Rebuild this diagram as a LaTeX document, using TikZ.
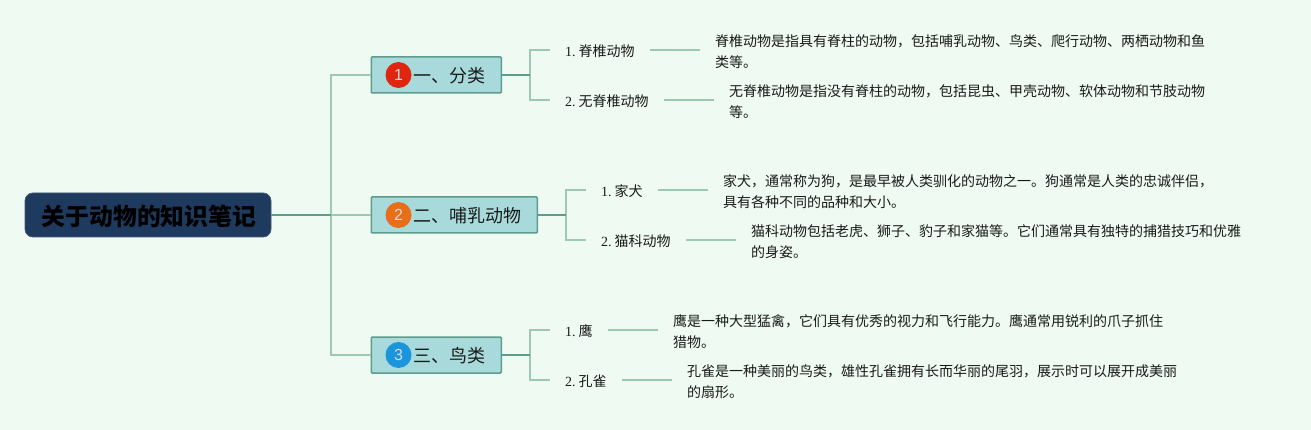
\documentclass[tikz,border=0pt]{standalone}
\usepackage{fontspec}
\setmainfont{Noto Sans CJK SC}
\newfontfamily\numfont{Liberation Serif}
\newfontfamily\sansnum{Liberation Sans}
\definecolor{bgc}{HTML}{EEFAF2}
\definecolor{rootc}{HTML}{1F3A5F}
\definecolor{mainc}{HTML}{A8DADC}
\definecolor{edgec}{HTML}{5E9C8C}
\definecolor{linec}{HTML}{9CC8B4}
\definecolor{inkc}{HTML}{1A1A1A}
\definecolor{bred}{HTML}{E0260F}
\definecolor{borange}{HTML}{E66F17}
\definecolor{bblue}{HTML}{1B95DC}
\tikzset{
 rootbox/.style={draw=rootc!85!white,fill=rootc,rounded corners=8pt,line width=.8pt,minimum width=246pt,minimum height=44pt,inner sep=0pt,text=black},
 roottext/.style={inner sep=0pt,font=\fontsize{23.8}{28}\selectfont\bfseries,text=black},
 mainbox/.style={draw=edgec,fill=mainc,line width=1.5pt,rounded corners=1pt,minimum height=36pt,inner sep=0pt,anchor=west},
 maintext/.style={anchor=west,inner sep=0pt,font=\fontsize{18}{22}\selectfont,text=inkc},
 subbox/.style={anchor=west,inner sep=0pt,minimum height=22pt,font=\fontsize{14}{18}\selectfont,text=inkc},
 detailbox/.style={anchor=west,inner sep=0pt,align=left,font=\fontsize{14}{21}\selectfont,text=inkc},
 badge/.style={circle,minimum size=26pt,inner sep=0pt,text=white!85!black,font=\sansnum\fontsize{16}{18}\selectfont},
 lightline/.style={draw=linec,line width=1.5pt},
 darkline/.style={draw=edgec,line width=1.5pt},
}
\newcommand{\nm}[1]{{\numfont #1.}\hspace{3pt}}
\begin{document}
\begin{tikzpicture}[x=1pt,y=-1pt]
\useasboundingbox (0,0) rectangle (1311,430);
\fill[bgc] (0,0) rectangle (1311,430);

\coordinate (trunk) at (331,215);
\coordinate (b1) at (530,75);
\coordinate (b2) at (566,215);
\coordinate (b3) at (530,355);

\node[rootbox] (root) at (148,215) {};
\node[roottext] (roottxt) at (149,216.5) {关于动物的知识笔记};

\node[mainbox,minimum width=130pt] (m1) at (370.5,75) {};
\node[mainbox,minimum width=166pt] (m2) at (370.5,215) {};
\node[mainbox,minimum width=130pt] (m3) at (370.5,355) {};
\node[badge,fill=bred] (bd1) at (398.5,75) {1};
\node[badge,fill=borange] (bd2) at (398.5,215) {2};
\node[badge,fill=bblue] (bd3) at (398.5,355) {3};
\node[maintext] (t1) at (413,76) {一、分类};
\node[maintext] (t2) at (413,216) {二、哺乳动物};
\node[maintext] (t3) at (413,356) {三、鸟类};

\node[subbox] (s11) at (565,51) {\nm{1}脊椎动物};
\node[subbox] (s12) at (565,101) {\nm{2}无脊椎动物};
\node[subbox] (s21) at (601,191) {\nm{1}家犬};
\node[subbox] (s22) at (601,241) {\nm{2}猫科动物};
\node[subbox] (s31) at (565,331) {\nm{1}鹰};
\node[subbox] (s32) at (565,381) {\nm{2}孔雀};

\node[detailbox] (d11) at (715,52) {脊椎动物是指具有脊柱的动物，包括哺乳动物、鸟类、爬行动物、两栖动物和鱼\\类等。};
\node[detailbox] (d12) at (729,102) {无脊椎动物是指没有脊柱的动物，包括昆虫、甲壳动物、软体动物和节肢动物\\等。};
\node[detailbox] (d21) at (723,192) {家犬，通常称为狗，是最早被人类驯化的动物之一。狗通常是人类的忠诚伴侣，\\具有各种不同的品种和大小。};
\node[detailbox] (d22) at (751,242) {猫科动物包括老虎、狮子、豹子和家猫等。它们通常具有独特的捕猎技巧和优雅\\的身姿。};
\node[detailbox] (d31) at (673,332) {鹰是一种大型猛禽，它们具有优秀的视力和飞行能力。鹰通常用锐利的爪子抓住\\猎物。};
\node[detailbox] (d32) at (687,382) {孔雀是一种美丽的鸟类，雄性孔雀拥有长而华丽的尾羽，展示时可以展开成美丽\\的扇形。};

\draw[lightline] (m1.west) -- (m1.west -| trunk) -- (m3.west -| trunk) -- (m3.west);
\draw[lightline] (trunk) -- (m2.west);
\draw[darkline] (root.east) -- (trunk);

\foreach \mm/\bb/\sa/\sb/\da/\db in {m1/b1/s11/s12/d11/d12,m2/b2/s21/s22/d21/d22,m3/b3/s31/s32/d31/d32}{
  \draw[lightline] ([xshift=-15pt,yshift=1pt]\sa.west) -- ([yshift=1pt]\sa.west -| \bb) -- ([yshift=1pt]\sb.west -| \bb) -- ([xshift=-15pt,yshift=1pt]\sb.west);
  \draw[darkline] (\mm.east) -- (\bb);
  \draw[lightline] ([xshift=15pt,yshift=1pt]\sa.east) -- ([xshift=-15pt,yshift=1pt]\da.west |- \sa.east);
  \draw[lightline] ([xshift=15pt,yshift=1pt]\sb.east) -- ([xshift=-15pt,yshift=1pt]\db.west |- \sb.east);
}
\end{tikzpicture}
\end{document}
